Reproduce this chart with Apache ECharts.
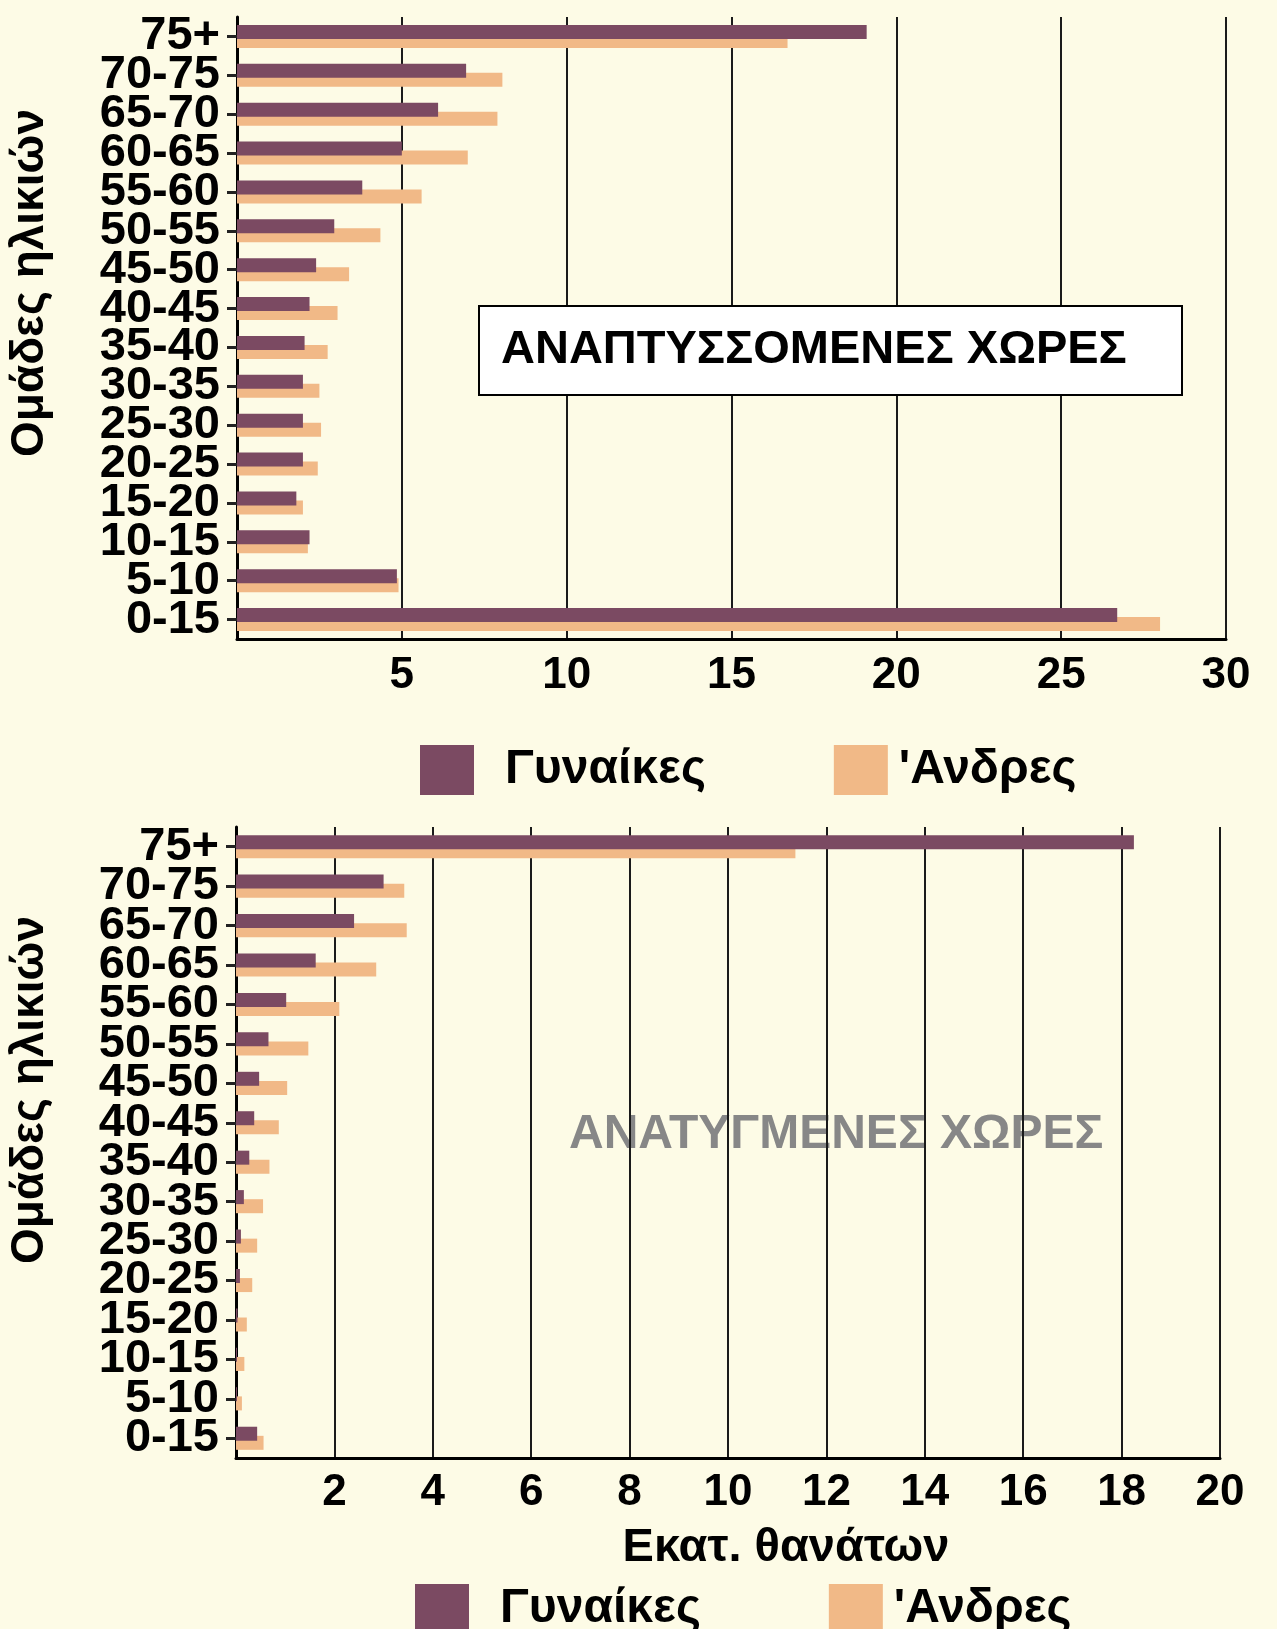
<!DOCTYPE html>
<html>
<head>
<meta charset="UTF-8">
<title>Ομάδες ηλικιών</title>
<script src="https://cdn.jsdelivr.net/npm/echarts@6/dist/echarts.min.js"></script>
<style>
	html, body { margin:0; padding:0; background:#fdfbe6; }
	#chart { width:1277px; height:1629px; }
</style>
</head>
<body>
<div id="chart"></div>
<script type="text/javascript">
	// age groups, top to bottom as printed
	var ageGroups = ['75+','70-75','65-70','60-65','55-60','50-55','45-50','40-45','35-40','30-35','25-30','20-25','15-20','10-15','5-10','0-15'];

	// developing countries (top chart)
	var devWomen = [19.1, 6.95, 6.1, 5.0, 3.8, 2.95, 2.4, 2.2, 2.05, 2.0, 2.0, 2.0, 1.8, 2.2, 4.85, 26.7];
	var devMen   = [16.7, 8.05, 7.9, 7.0, 5.6, 4.35, 3.4, 3.05, 2.75, 2.5, 2.55, 2.45, 2.0, 2.15, 4.9, 28.0];

	// developed countries (bottom chart)
	var advWomen = [18.25, 3.0, 2.4, 1.62, 1.02, 0.66, 0.47, 0.37, 0.27, 0.16, 0.1, 0.08, 0.03, 0.02, 0.02, 0.43];
	var advMen   = [11.37, 3.42, 3.47, 2.85, 2.1, 1.47, 1.04, 0.87, 0.68, 0.55, 0.43, 0.33, 0.22, 0.17, 0.12, 0.56];

	var seriesNames = ['Γυναίκες', "'Ανδρες"];
	var topTicks = {min:0, max:30, interval:5};
	var bottomTicks = {min:0, max:20, interval:2};

	var FONT = "'Liberation Sans', Arial, sans-serif";
	var PURPLE = '#7b4a62';
	var PEACH = '#f1b987';

	var chart = echarts.init(document.getElementById('chart'));

	function valueAxis(grid, ticks, margin)
	{
		return {
			type:'value',
			gridIndex:grid,
			min:ticks.min,
			max:ticks.max,
			interval:ticks.interval,
			axisLine:{show:true, lineStyle:{color:'#000', width:3}},
			axisTick:{show:false},
			splitLine:{show:true, lineStyle:{color:'#1a1a1a', width:2}},
			axisLabel:{
				margin:margin,
				color:'#000',
				fontFamily:FONT,
				fontWeight:'bold',
				fontSize:44,
				formatter:function(v){ return v === 0 ? '' : v; }
			}
		};
	}

	function categoryAxis(grid)
	{
		return {
			type:'category',
			gridIndex:grid,
			inverse:true,
			data:ageGroups,
			axisLine:{show:true, lineStyle:{color:'#000', width:3}},
			axisTick:{show:true, alignWithLabel:true, length:10, lineStyle:{color:'#222', width:3}},
			splitLine:{show:false},
			axisLabel:{
				interval:0,
				margin:17,
				color:'#000',
				fontFamily:FONT,
				fontWeight:'bold',
				fontSize:47
			}
		};
	}

	function barSeries(name, axis, data, color, z)
	{
		return {
			name:name,
			type:'bar',
			xAxisIndex:axis,
			yAxisIndex:axis,
			data:data,
			barWidth:14,
			barGap:'-35%',
			z:z,
			itemStyle:{color:color}
		};
	}

	function legend(left, top)
	{
		return {
			left:left,
			top:top,
			itemWidth:54,
			itemHeight:50,
			itemGap:128,
			icon:'rect',
			textStyle:{color:'#000', fontFamily:FONT, fontWeight:'bold', fontSize:48},
			data:[
				{name:seriesNames[0], textStyle:{padding:[0,0,0,26]}},
				{name:seriesNames[1], textStyle:{padding:[0,0,0,6]}}
			]
		};
	}

	var option =
	{
		backgroundColor:'#fdfbe6',
		animation:false,
		grid:[
			{left:237, right:51, top:17, height:622},
			{left:236, right:57, top:827, height:631}
		],
		xAxis:[valueAxis(0, topTicks, 15), valueAxis(1, bottomTicks, 13)],
		yAxis:[categoryAxis(0), categoryAxis(1)],
		legend:[legend(415, 740), legend(410, 1579)],
		series:[
			barSeries(seriesNames[0], 0, devWomen, PURPLE, 3),
			barSeries(seriesNames[1], 0, devMen, PEACH, 2),
			barSeries(seriesNames[0], 1, advWomen, PURPLE, 3),
			barSeries(seriesNames[1], 1, advMen, PEACH, 2)
		],
		graphic:[
			{
				type:'rect', z:10,
				shape:{x:479, y:306, width:703, height:89},
				style:{fill:'#fff', stroke:'#000', lineWidth:2}
			},
			{
				type:'text', z:11, x:501, y:350,
				style:{text:'ΑΝΑΠΤΥΣΣΟΜΕΝΕΣ ΧΩΡΕΣ', fill:'#000', font:'bold 47px ' + FONT, textVerticalAlign:'middle'}
			},
			{
				type:'text', z:-1, x:569, y:1135,
				style:{text:'ΑΝΑΤΥΓΜΕΝΕΣ ΧΩΡΕΣ', fill:'#878787', font:'bold 48px ' + FONT, textVerticalAlign:'middle'}
			},
			{
				type:'text', x:30, y:283, rotation:Math.PI / 2,
				style:{text:'Ομάδες ηλικιών', fill:'#000', font:'bold 46px ' + FONT, textAlign:'center', textVerticalAlign:'middle'}
			},
			{
				type:'text', x:30, y:1090, rotation:Math.PI / 2,
				style:{text:'Ομάδες ηλικιών', fill:'#000', font:'bold 46px ' + FONT, textAlign:'center', textVerticalAlign:'middle'}
			},
			{
				type:'text', x:786, y:1548,
				style:{text:'Εκατ. θανάτων', fill:'#000', font:'bold 47px ' + FONT, textAlign:'center', textVerticalAlign:'middle'}
			}
		]
	};

	chart.setOption(option);
</script>
</body>
</html>
